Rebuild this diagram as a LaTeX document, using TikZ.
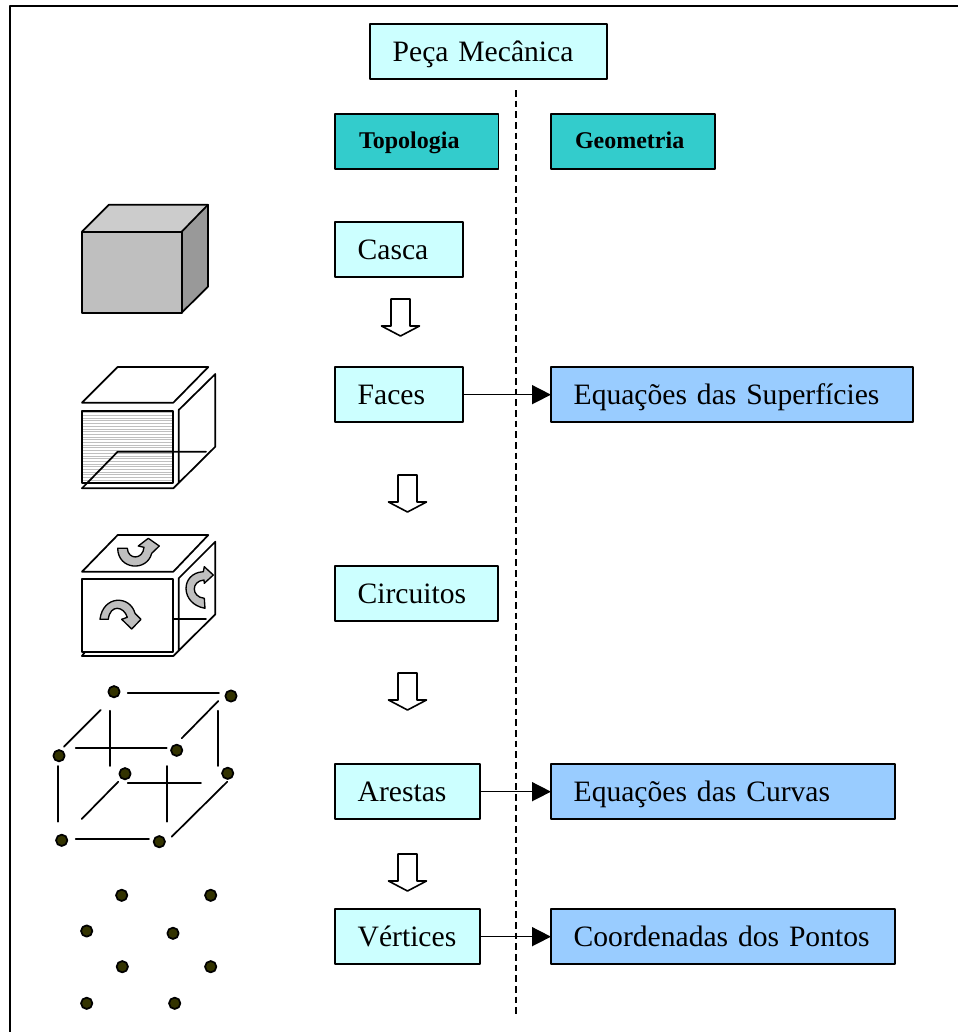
\documentclass[tikz,border=0pt]{standalone}
\usepackage{fontspec}
\setmainfont{Liberation Serif}
\usetikzlibrary{arrows.meta}
\definecolor{lightcyan}{HTML}{CCFFFF}
\definecolor{headteal}{HTML}{33CCCC}
\definecolor{geoblue}{HTML}{99CCFF}
\definecolor{dotolive}{HTML}{333300}
\tikzset{
  box/.style={draw, line width=1.3pt, anchor=north west, inner xsep=0pt, inner ysep=0pt, outer sep=0pt,
    minimum height=41.5pt, text width=#1, align=left, font=\fontsize{22.2}{26}\selectfont,
    text height=18pt, text depth=3pt},
  topbox/.style={box=#1, fill=lightcyan, execute at begin node={\hspace*{17pt}}},
  headbox/.style={box=#1, fill=headteal, font=\fontsize{18}{22}\selectfont\bfseries,
    text height=14pt, text depth=3.5pt, execute at begin node={\hspace*{18pt}}},
  geobox/.style={box=#1, fill=geoblue, execute at begin node={\hspace*{17pt}}},
  link/.style={line width=1.2pt, -{Triangle[length=14.25pt,width=14.25pt]}},
  blockarrow/.style={line width=1.2pt, fill=white},
  edge/.style={line width=1.3pt},
  turnarrow/.style={line width=1pt, fill=black!25},
  pt/.style={circle, draw, line width=1.3pt, fill=dotolive, inner sep=0pt, minimum size=8.5pt}
}
\begin{document}
\begin{tikzpicture}[line cap=round,line join=round,x=0.75pt,y=-0.75pt]
\useasboundingbox (0,0) rectangle (958,1032);
\draw [line width=1.5pt,line cap=butt] (10,1032)-- (10,6)-- (958,6);
\draw [line width=1.2pt,line cap=butt,dash pattern=on 5pt off 3pt] (515.7,90)-- (515.7,1017);

\node [topbox=177.75pt] (peca) at (370,24) {Peça Mecânica};
\node [headbox=122.6pt] (topologia) at (335,114) {Topologia};
\node [headbox=123pt] (geometria) at (551,114) {Geometria};
\node [topbox=96pt] (casca) at (335,222) {Casca};
\node [topbox=96pt] (faces) at (335,367) {Faces};
\node [topbox=122.25pt] (circuitos) at (335,566) {Circuitos};
\node [topbox=108.75pt] (arestas) at (335,764) {Arestas};
\node [topbox=108.75pt] (vertices) at (335,909) {Vértices};
\node [geobox=271.5pt] (superficies) at (551,367) {Equações das Superfícies};
\node [geobox=258pt] (curvas) at (551,764) {Equações das Curvas};
\node [geobox=258pt] (pontos) at (551,909) {Coordenadas dos Pontos};

\draw [link] (faces.east)-- (superficies.west);
\draw [link] (arestas.east)-- (curvas.west);
\draw [link] (vertices.east)-- (pontos.west);

\foreach \ax/\ay in {400.5/299,407.5/475,407.5/673,407.5/854}
  \draw [blockarrow,shift={(\ax,\ay)}] (-9.5,0)-- (9.5,0)-- (9.5,27)-- (19,27)-- (0,37)-- (-19,27)-- (-9.5,27)-- cycle;

\fill [black!20] (82,231.7)-- (109,204.7)-- (208,204.7)-- (181.7,231.7)-- cycle;
\fill [black!40] (181.7,231.7)-- (208,204.7)-- (208,286.7)-- (181.7,312.7)-- cycle;
\draw [edge,fill=black!25] (82,231.7) rectangle (181.7,312.7);
\draw [edge] (82,231.7)-- (109,204.7)-- (208,204.7)-- (208,286.7)-- (181.7,312.7);
\draw [edge] (181.7,231.7)-- (208,204.7);

\foreach \hy in {412.7,415.4,...,482}
  \draw [black!25,line width=.5pt] (82,\hy)-- (173.3,\hy);
\draw [edge] (82,402.7)-- (173.3,402.7)-- (208.3,367)-- (117.7,367)-- cycle;
\draw [edge] (82,410.7) rectangle (173.3,483.3);
\draw [edge] (82,488.3)-- (173.3,488.3)-- (215.3,446.7)-- (215.3,374)-- (178.7,410)-- (178.7,483);
\draw [edge] (82,488.3)-- (117.7,451.7)-- (206,451.7);

\draw [edge] (82,571.7)-- (173.3,571.7)-- (208.3,535)-- (117.7,535)-- cycle;
\draw [edge] (82,578.7) rectangle (173.3,651.7);
\draw [edge] (82,656)-- (173.3,656)-- (215.3,614.3)-- (215.3,541.7)-- (178.7,578.3)-- (178.7,650);
\draw [edge] (82,656)-- (85,652);
\draw [edge] (173.3,619.3)-- (206,619.3);
\draw [turnarrow] (117.7,548.3) .. controls (118,570) and (147,572) .. (151.7,553.3)-- (159.3,546)-- (148.3,538.3)-- (138.3,546)-- (144,547.3) .. controls (143,560) and (128,560) .. (127.3,548.3)-- cycle;
\draw [turnarrow] (100,619.3) .. controls (103,595) and (130,595) .. (135,613.3)-- (141,619.3)-- (131.7,629)-- (121.7,619.3)-- (127.3,617.3) .. controls (124,606) and (110,604) .. (108.3,619.3)-- cycle;
\draw [turnarrow] (205,608.3) .. controls (180,604) and (180,573) .. (203.3,571.7)-- (204.3,566.7)-- (213.3,575)-- (204.3,583.3)-- (204,580) .. controls (191,581) and (191,597) .. (204.3,598.3)-- cycle;

\foreach \xa/\ya/\xb/\yb in {127.7/692.7/219/692.7,218.3/701/181.7/738.3,100.7/710/64/746.7,110/710.7/110/766,
  75.7/748.3/166.7/748.3,218.3/710.7/218.3/766,57.7/766/57.7/821.7,118.3/781.7/81.7/819,
  127.7/783.3/201/783.3,166.7/766/166.7/821.7,227.3/781.7/171.7/836.7,75.7/839/149/839}
  \draw [edge] (\xa,\ya)-- (\xb,\yb);
\foreach \n/\px/\py in {a/114/691.7,b/231/696,c/59/755.7,d/176.7/750.3,e/125/773.7,f/227.7/773.3,g/61.7/840.3,h/159.3/841.7}
  \node [pt] (w\n) at (\px,\py) {};
\foreach \n/\px/\py in {a/121.7/895.3,b/210.7/895.3,c/86.7/931,d/173/933.3,e/122.3/966.7,f/210.7/966.7,g/86.7/1003.3,h/174.7/1003.3}
  \node [pt] (v\n) at (\px,\py) {};
\end{tikzpicture}
\end{document}
